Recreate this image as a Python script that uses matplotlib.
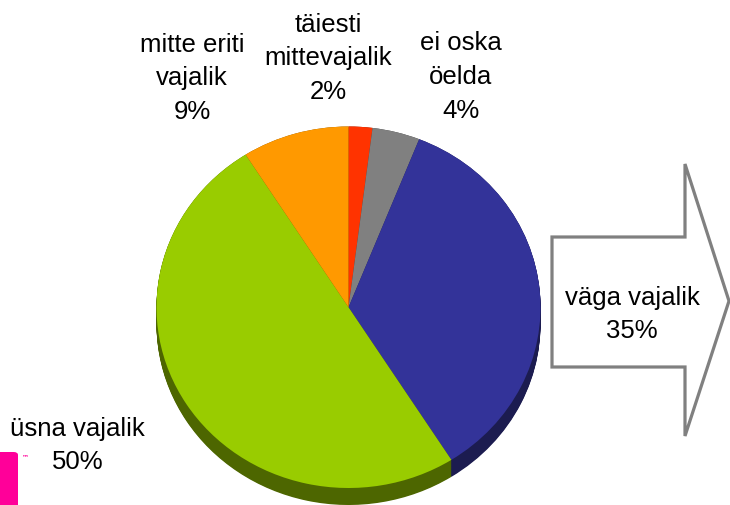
import matplotlib
matplotlib.use("Agg")
import matplotlib.pyplot as plt
import numpy as np
from matplotlib.patches import Polygon, FancyBboxPatch

# ---- data ----
categories = ["täiesti mittevajalik", "ei oska öelda", "väga vajalik", "üsna vajalik", "mitte eriti vajalik"]
values = [2, 4, 35, 50, 9]
top_colors = ["#ff3300", "#808080", "#333399", "#99cc00", "#ff9900"]
side_colors = ["#801a00", "#404040", "#1c1c50", "#4d6600", "#7f4c00"]
label_lines = [["täiesti", "mittevajalik", "2%"],
               ["ei oska", "öelda", "4%"],
               ["väga vajalik", "35%"],
               ["üsna vajalik", "50%"],
               ["mitte eriti", "vajalik", "9%"]]

W, H = 730, 506
fig = plt.figure(figsize=(W / 100, H / 100), dpi=100)
fig.patch.set_facecolor("white")

def fx(x):
    return x / W

def fy(y):
    return 1 - y / H

FONT = "Liberation Sans"
FS = 18.5
LINE = 33.5  # px between baselines

# pie axes: top-surface ellipse bounding box in pixels
left, right, top, bottom = 156.5, 540.5, 127.5, 489.0
ax = fig.add_axes([fx(left), fy(bottom), (right - left) / W, (bottom - top) / H])
ry_px = (bottom - top) / 2
depth = 17 / ry_px

# side (extrusion) layers
for k in np.linspace(depth, 0.0, 24):
    wedges, _ = ax.pie(values, colors=side_colors, startangle=90, counterclock=False,
                       center=(0, -k), radius=1, wedgeprops=dict(linewidth=0))
    for w in wedges:
        w.set_clip_on(False)

# top surface
wedges, _ = ax.pie(values, colors=top_colors, startangle=90, counterclock=False,
                   center=(0, 0), radius=1, wedgeprops=dict(linewidth=0))
for w in wedges:
    w.set_clip_on(False)

ax.set_aspect("auto")
ax.set_xlim(-1, 1)
ax.set_ylim(-1, 1)
ax.axis("off")

# label anchors: (center x, first baseline y) in pixels
label_pos = {
    0: (328, 32),
    1: (461, 50.5),
    2: (632, 305),
    3: (77.5, 436),
    4: (192, 52),
}

# arrow callout for the largest slice
arrow_pts = [(552, 238), (685, 238), (685, 165), (729, 302), (685, 437), (685, 368), (552, 368)]
arrow = Polygon([(fx(x), fy(y)) for x, y in arrow_pts], closed=True, transform=fig.transFigure,
                facecolor="white", edgecolor="#808080", linewidth=2.3, joinstyle="miter")
fig.add_artist(arrow)

for i, (x, y0) in label_pos.items():
    for j, line in enumerate(label_lines[i]):
        fig.text(fx(x), fy(y0 + j * LINE), line, ha="center", va="baseline",
                 fontsize=FS, family=FONT, color="black")

# pink logo fragment
logo = FancyBboxPatch((fx(-10), fy(520)), 28 / W, (520 - 453) / H, transform=fig.transFigure,
                      boxstyle="round,pad=0,rounding_size=0.006", facecolor="#ff0099", edgecolor="none")
fig.add_artist(logo)
fig.text(fx(22), fy(457), "™", fontsize=5, family="DejaVu Sans", color="#ff0099",
         ha="left", va="center", fontweight="bold")

fig.savefig("out.png", dpi=100)
